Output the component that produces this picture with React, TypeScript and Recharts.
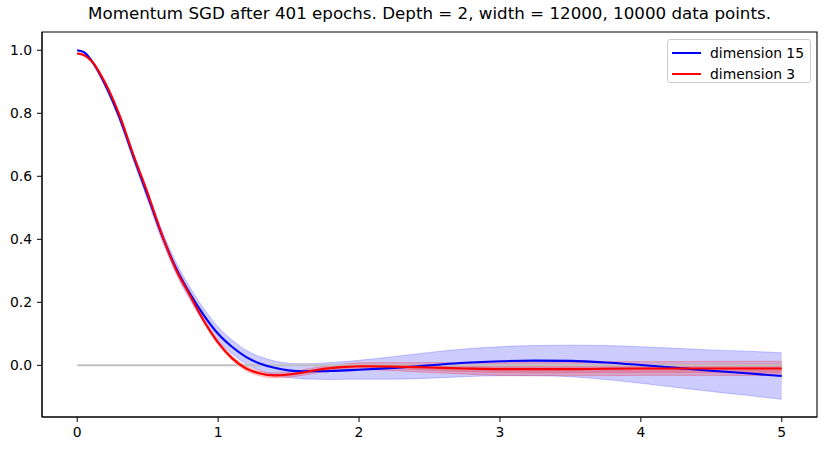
import {
  ComposedChart,
  Line,
  Area,
  XAxis,
  YAxis,
  Legend,
  ReferenceLine,
  ReferenceArea,
} from "recharts";

const xs = [
  0, 0.05, 0.1, 0.2, 0.3, 0.4, 0.5, 0.6, 0.7, 0.8, 0.9, 1.0, 1.1, 1.2, 1.3, 1.4,
  1.5, 1.6, 1.7, 1.8, 1.9, 2.0, 2.25, 2.5, 2.75, 3.0, 3.25, 3.5, 3.75, 4.0, 4.25,
  4.5, 4.75, 5.0,
];

// dimension 15 (blue)
const blueMean = [
  1.0, 0.993, 0.968, 0.889, 0.786, 0.66, 0.538, 0.414, 0.31, 0.228, 0.158, 0.1,
  0.058, 0.026, 0.005, -0.008, -0.016, -0.019, -0.019, -0.018, -0.016, -0.014,
  -0.008, 0.0, 0.008, 0.013, 0.015, 0.014, 0.009, 0.001, -0.008, -0.017, -0.025,
  -0.034,
];
const blueHigh = [
  1.002, 0.996, 0.972, 0.896, 0.796, 0.672, 0.552, 0.43, 0.328, 0.248, 0.179,
  0.122, 0.08, 0.048, 0.027, 0.014, 0.007, 0.005, 0.006, 0.009, 0.012, 0.016,
  0.028, 0.041, 0.052, 0.059, 0.063, 0.064, 0.063, 0.059, 0.054, 0.049, 0.045,
  0.04,
];
const blueLow = [
  0.998, 0.99, 0.964, 0.882, 0.776, 0.648, 0.524, 0.398, 0.292, 0.208, 0.137,
  0.078, 0.036, 0.004, -0.017, -0.03, -0.039, -0.043, -0.044, -0.045, -0.044,
  -0.044, -0.044, -0.041, -0.036, -0.033, -0.033, -0.036, -0.045, -0.057, -0.07,
  -0.083, -0.095, -0.108,
];

// dimension 3 (red)
const redMean = [
  0.99, 0.984, 0.967, 0.895, 0.794, 0.666, 0.546, 0.416, 0.305, 0.222, 0.14,
  0.072, 0.022, -0.01, -0.026, -0.032, -0.029, -0.023, -0.015, -0.009, -0.005,
  -0.003, -0.004, -0.007, -0.01, -0.012, -0.012, -0.012, -0.011, -0.01, -0.01,
  -0.01, -0.01, -0.01,
];
const redHigh = [
  0.993, 0.987, 0.971, 0.9, 0.799, 0.672, 0.552, 0.422, 0.312, 0.229, 0.147,
  0.079, 0.029, -0.002, -0.018, -0.024, -0.02, -0.014, -0.006, 0.0, 0.005,
  0.008, 0.009, 0.009, 0.008, 0.008, 0.009, 0.009, 0.011, 0.012, 0.012, 0.013,
  0.013, 0.013,
];
const redLow = [
  0.987, 0.981, 0.963, 0.89, 0.789, 0.66, 0.54, 0.41, 0.298, 0.215, 0.133,
  0.065, 0.015, -0.018, -0.034, -0.04, -0.038, -0.032, -0.024, -0.018, -0.015,
  -0.014, -0.017, -0.023, -0.028, -0.032, -0.033, -0.033, -0.033, -0.032,
  -0.032, -0.033, -0.033, -0.033,
];
const redInnerHigh = [
  0.992, 0.986, 0.969, 0.898, 0.797, 0.669, 0.549, 0.42, 0.309, 0.226, 0.144,
  0.076, 0.026, -0.006, -0.022, -0.028, -0.024, -0.018, -0.01, -0.003, 0.001,
  0.004, 0.004, 0.003, 0.001, 0.0, 0.001, 0.001, 0.002, 0.004, 0.004, 0.004,
  0.005, 0.005,
];
const redInnerLow = [
  0.988, 0.982, 0.965, 0.892, 0.791, 0.663, 0.543, 0.412, 0.301, 0.218, 0.136,
  0.068, 0.018, -0.014, -0.03, -0.036, -0.034, -0.028, -0.02, -0.015, -0.011,
  -0.01, -0.012, -0.017, -0.021, -0.024, -0.025, -0.025, -0.024, -0.024, -0.024,
  -0.024, -0.025, -0.025,
];

const xTicks = [0, 1, 2, 3, 4, 5];
const yTicks = [0, 0.2, 0.4, 0.6, 0.8, 1.0];
const title =
  "Momentum SGD after 401 epochs. Depth = 2, width = 12000, 10000 data points.";
const legendItems = [
  { name: "dimension 15", color: "#0000ff" },
  { name: "dimension 3", color: "#ff0000" },
];

const data = xs.map((t, i) => ({
  t,
  blue: blueMean[i],
  blueBand: [blueLow[i], blueHigh[i]],
  red: redMean[i],
  redBand: [redLow[i], redHigh[i]],
  redInner: [redInnerLow[i], redInnerHigh[i]],
}));

const FONT = "DejaVu Sans, sans-serif";
const X_DOMAIN: [number, number] = [-0.25, 5.25];
const Y_DOMAIN: [number, number] = [-0.164, 1.058];

function LegendBox() {
  return (
    <div
      style={{
        width: 144,
        height: 44,
        border: "1px solid #cccccc",
        borderRadius: 3,
        background: "rgba(255,255,255,0.8)",
        fontFamily: FONT,
        fontSize: 13.9,
        color: "#000",
        boxSizing: "border-box",
        paddingTop: 2,
      }}
    >
      {legendItems.map((item) => (
        <div
          key={item.name}
          style={{ display: "flex", alignItems: "center", height: 21 }}
        >
          <span
            style={{
              display: "inline-block",
              width: 29,
              height: 2,
              background: item.color,
              marginLeft: 4,
              marginRight: 9,
            }}
          />
          <span>{item.name}</span>
        </div>
      ))}
    </div>
  );
}

export default function App() {
  return (
    <div
      style={{
        position: "absolute",
        left: 0,
        top: 0,
        width: 826,
        height: 451,
        background: "#fff",
        fontFamily: FONT,
      }}
    >
      <div
        style={{
          position: "absolute",
          left: 42,
          width: 775,
          top: 3,
          textAlign: "center",
          fontSize: 16.7,
          color: "#000",
          whiteSpace: "nowrap",
        }}
      >
        {title}
      </div>
      <ComposedChart
        width={826}
        height={451}
        data={data}
        margin={{ top: 32, right: 9, bottom: 0, left: 0 }}
      >
        <XAxis
          dataKey="t"
          type="number"
          domain={X_DOMAIN}
          ticks={xTicks}
          allowDataOverflow
          height={34}
          stroke="#000"
          tickSize={5}
          tickMargin={5}
          tick={{ fill: "#000", fontSize: 13.9, fontFamily: FONT }}
        />
        <YAxis
          type="number"
          domain={Y_DOMAIN}
          ticks={yTicks}
          allowDataOverflow
          width={42}
          stroke="#000"
          tickSize={5}
          tickMargin={5}
          tickFormatter={(v: number) => v.toFixed(1)}
          tick={{ fill: "#000", fontSize: 13.9, fontFamily: FONT }}
        />
        <ReferenceArea
          x1={X_DOMAIN[0]}
          x2={X_DOMAIN[1]}
          y1={Y_DOMAIN[0]}
          y2={Y_DOMAIN[1]}
          fill="none"
          stroke="#000"
          strokeWidth={1.1}
        />
        <ReferenceLine
          segment={[
            { x: 0, y: 0 },
            { x: 5, y: 0 },
          ]}
          stroke="#c0c0c0"
          strokeWidth={2}
        />
        <Area
          dataKey="blueBand"
          type="monotone"
          fill="#0000ff"
          fillOpacity={0.2}
          stroke="#0000ff"
          strokeOpacity={0.2}
          strokeWidth={1}
          isAnimationActive={false}
          legendType="none"
        />
        <Area
          dataKey="redBand"
          type="monotone"
          fill="#ff0000"
          fillOpacity={0.2}
          stroke="#ff0000"
          strokeOpacity={0.2}
          strokeWidth={1}
          isAnimationActive={false}
          legendType="none"
        />
        <Area
          dataKey="redInner"
          type="monotone"
          fill="#ff0000"
          fillOpacity={0.2}
          stroke="none"
          isAnimationActive={false}
          legendType="none"
        />
        <Line
          dataKey="blue"
          name="dimension 15"
          type="monotone"
          stroke="#0000ff"
          strokeWidth={2.1}
          dot={false}
          isAnimationActive={false}
        />
        <Line
          dataKey="red"
          name="dimension 3"
          type="monotone"
          stroke="#ff0000"
          strokeWidth={2.1}
          dot={false}
          isAnimationActive={false}
        />
        <Legend
          layout="horizontal"
          verticalAlign="middle"
          align="center"
          content={() => <LegendBox />}
          wrapperStyle={{ top: 39, left: 667, width: 144, height: 44 }}
        />
      </ComposedChart>
    </div>
  );
}
